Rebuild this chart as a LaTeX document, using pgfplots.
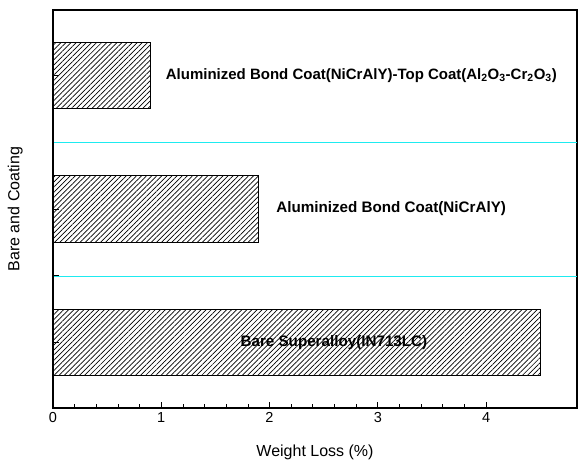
\documentclass[border=0pt]{standalone}
\usepackage{pgfplots}
\pgfplotsset{compat=1.18}
\usepackage{fontspec}
\setmainfont{Liberation Sans}
\usetikzlibrary{patterns.meta}
\definecolor{gridcyan}{RGB}{30,235,240}
\begin{document}
\begin{tikzpicture}
\begin{axis}[
  scale only axis,
  width=524pt, height=398pt,
  xmin=0, xmax=4.84,
  ymin=0.51, ymax=3.49,
  xtick={0,1,2,3,4},
  minor x tick num=4,
  ytick={1,1.5,2,2.5,3},
  yticklabels={},
  tick align=inside,
  tick pos=left,
  major tick length=6pt,
  minor tick length=3.5pt,
  axis line style={line width=1.2pt},
  every tick/.style={black, line width=0.7pt},
  /pgf/number format/assume math mode=true,
  tick label style={font=\fontsize{14.5}{16}\selectfont},
  xticklabel style={yshift=-1pt},
  xlabel={Weight Loss (\%)},
  ylabel={Bare and Coating},
  label style={font=\fontsize{16}{18}\selectfont},
  xlabel style={at={(axis description cs:0.5,-0.111)}, anchor=center},
  ylabel style={at={(axis description cs:-0.072,0.5)}, anchor=center},
  clip=false,
]
\addplot[gridcyan, line width=1.6pt, no markers, forget plot] coordinates {(0.01,1.4955) (4.84,1.4955)};
\addplot[gridcyan, line width=1.4pt, no markers, forget plot] coordinates {(0.01,2.5) (4.84,2.5)};
\addplot[xbar, bar width=0.5, bar shift=0pt, draw=black, line width=0.9pt, pattern={Lines[angle=45, distance=3.6pt, line width=0.7pt]}]
  coordinates {(4.5,1) (1.9,2) (0.9,3)};
\node[anchor=west, font=\bfseries\fontsize{15}{17}\selectfont] at (axis cs:1.01,3) {Aluminized Bond Coat(NiCrAlY)-Top Coat(Al\textsubscript{2}O\textsubscript{3}-Cr\textsubscript{2}O\textsubscript{3})};
\node[anchor=west, font=\bfseries\fontsize{15.2}{17}\selectfont] at (axis cs:2.03,2) {Aluminized Bond Coat(NiCrAlY)};
\node[anchor=west, font=\bfseries\fontsize{15.2}{17}\selectfont] at (axis cs:1.70,1) {Bare Superalloy(IN713LC)};
\end{axis}
\path ([xshift=-53pt,yshift=-57pt]current axis.south west) rectangle ([xshift=4pt,yshift=10pt]current axis.north east);
\end{tikzpicture}
\end{document}
